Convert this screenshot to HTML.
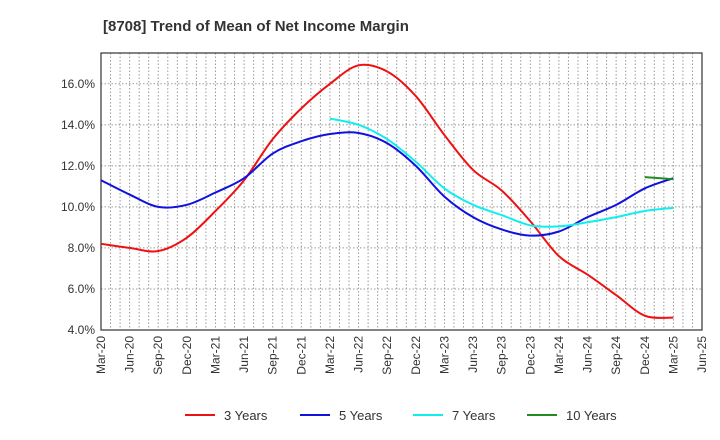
<!DOCTYPE html>
<html><head><meta charset="utf-8"><style>
body{margin:0;background:#fff;font-family:"Liberation Sans",Arial,sans-serif}
svg{display:block}
</style></head><body>
<svg id="chart" width="720" height="440" xmlns="http://www.w3.org/2000/svg">
<rect width="720" height="440" fill="#fff"/>
<text x="103" y="31" font-size="15" font-weight="bold" fill="#333">[8708]  Trend of Mean of Net Income Margin</text>
<g id="grid"></g><g id="axes"></g><g id="series"></g><g id="legend"></g>
</svg>
<script>
const categories=["Mar-20","Jun-20","Sep-20","Dec-20","Mar-21","Jun-21","Sep-21","Dec-21","Mar-22","Jun-22","Sep-22","Dec-22","Mar-23","Jun-23","Sep-23","Dec-23","Mar-24","Jun-24","Sep-24","Dec-24","Mar-25","Jun-25"];
const yTicks=[4,6,8,10,12,14,16];
const y3=[8.2,8.0,7.85,8.5,9.8,11.3,13.3,14.8,16.0,16.9,16.6,15.4,13.5,11.8,10.8,9.3,7.6,6.7,5.7,4.7,4.6];
const y5=[11.3,10.6,10.0,10.1,10.7,11.4,12.6,13.2,13.55,13.6,13.1,12.0,10.5,9.5,8.9,8.6,8.8,9.5,10.1,10.9,11.4];
const y7=[null,null,null,null,null,null,null,null,14.3,14.0,13.3,12.2,10.9,10.1,9.6,9.1,9.05,9.25,9.5,9.8,9.95];
const y10=[null,null,null,null,null,null,null,null,null,null,null,null,null,null,null,null,null,null,null,11.45,11.35];
const seriesNames=["3 Years","5 Years","7 Years","10 Years"];
const colors=["#ee1111","#1111dd","#11eeee","#228b22"];
const L=101,R=702,T=53,B=330,yMin=4,yMax=17.5;
const NS="http://www.w3.org/2000/svg";
const xs=i=>L+i*(R-L)/(categories.length-1);
const ys=v=>B-(v-yMin)/(yMax-yMin)*(B-T);
function mk(t,a,p){const e=document.createElementNS(NS,t);for(const k in a)e.setAttribute(k,a[k]);p.appendChild(e);return e;}
const grid=document.getElementById('grid'),axes=document.getElementById('axes'),ser=document.getElementById('series'),leg=document.getElementById('legend');
const months=(categories.length-1)*3;
for(let m=1;m<months;m++){const x=L+m*(R-L)/months;const g=mk('line',{x1:x,x2:x,y1:T,y2:B,stroke:'#999','stroke-dasharray':'1.5,2','stroke-width':1},grid);

}
yTicks.forEach(v=>{const y=ys(v);if(v>yMin){const g=mk('line',{x1:L,x2:R,y1:y,y2:y,stroke:'#999','stroke-dasharray':'1.5,2'},grid);

}
const t=mk('text',{x:L-6,y:y+4,'text-anchor':'end','font-size':12,fill:'#333'},axes);t.textContent=v.toFixed(1)+'%';

});
const fr=mk('rect',{x:L,y:T,width:R-L,height:B-T,fill:'none',stroke:'#333','stroke-width':1.2},axes);


categories.forEach((c,i)=>{const x=xs(i);const t=mk('text',{x:0,y:0,'text-anchor':'end','font-size':12,fill:'#333',transform:`translate(${x+4},336) rotate(-90)`},axes);t.textContent=c;

});
function path(vals){const p=[];vals.forEach((v,i)=>{if(v!=null)p.push([xs(i),ys(v)]);});if(p.length<2)return '';
let d=`M${p[0][0]},${p[0][1]}`;for(let i=0;i<p.length-1;i++){const p0=p[i-1]||p[i],p1=p[i],p2=p[i+1],p3=p[i+2]||p2;
const c1=[p1[0]+(p2[0]-p0[0])/6,p1[1]+(p2[1]-p0[1])/6],c2=[p2[0]-(p3[0]-p1[0])/6,p2[1]-(p3[1]-p1[1])/6];d+=`C${c1[0]},${c1[1]} ${c2[0]},${c2[1]} ${p2[0]},${p2[1]}`;}return d;}
[y3,y5,y7,y10].forEach((s,k)=>{const e=mk('path',{d:path(s),fill:'none',stroke:colors[k],'stroke-width':2},ser);

});
const lx=[185,300,413,527];
seriesNames.forEach((n,k)=>{const g=mk('g',{},leg);


mk('line',{x1:lx[k],x2:lx[k]+30,y1:415,y2:415,stroke:colors[k],'stroke-width':2},g);
const t=mk('text',{x:lx[k]+39,y:420,'font-size':13,fill:'#333'},g);t.textContent=n;});
</script>
</body></html>
